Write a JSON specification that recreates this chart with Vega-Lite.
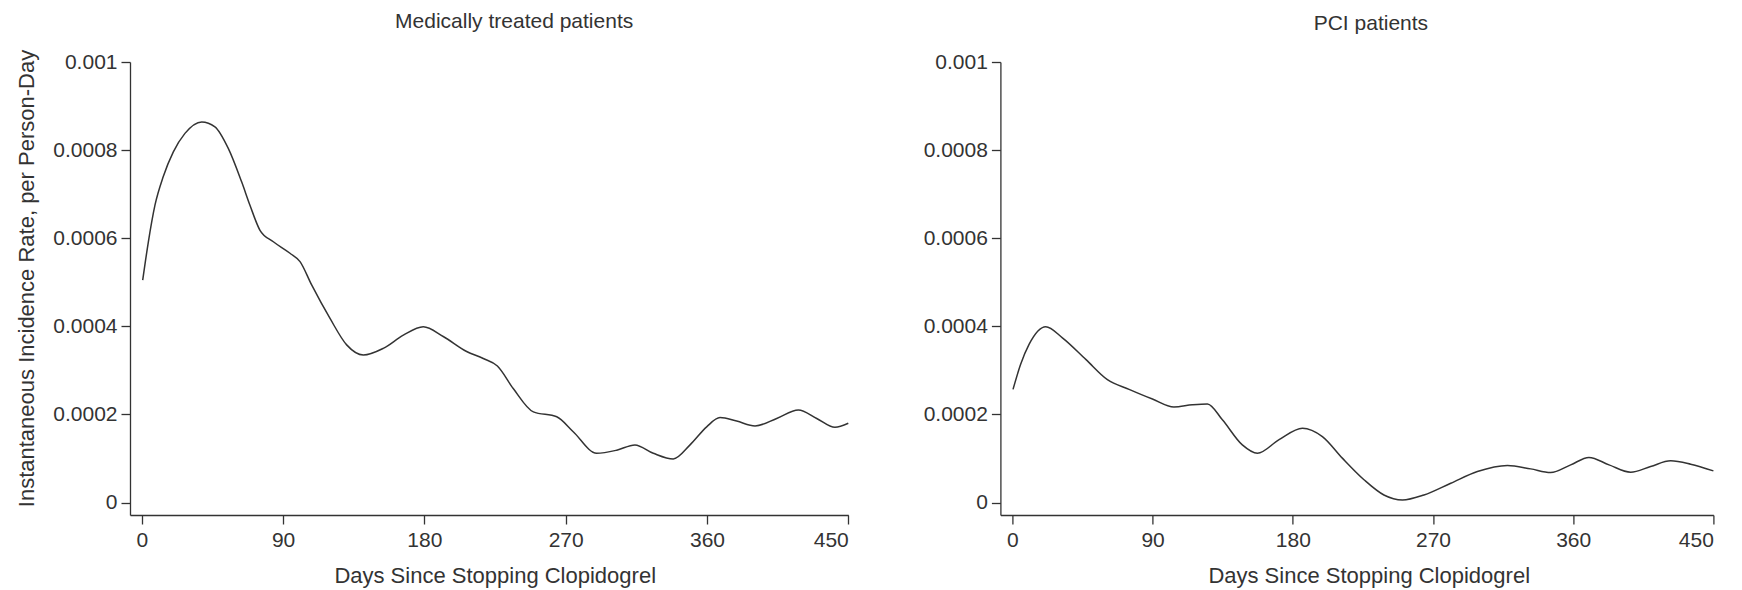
{
  "$schema": "https://vega.github.io/schema/vega-lite/v6.json",
  "padding": {"left": 14, "top": 10, "right": 5, "bottom": 10},
  "config": {
    "font": "Liberation Sans",
    "view": {"stroke": null},
    "axis": {
      "grid": false,
      "domainColor": "#333",
      "tickColor": "#333",
      "labelColor": "#333",
      "titleColor": "#333",
      "labelFontSize": 21,
      "titleFontSize": 22,
      "titleFontWeight": "normal",
      "tickSize": 9,
      "labelPadding": 5,
      "domainWidth": 1.3,
      "tickWidth": 1.3
    },
    "title": {"fontSize": 21, "fontWeight": "normal", "color": "#333"}
  },
  "datasets": {
    "med": [
      {"day": 0.6, "rate": 0.000505},
      {"day": 4.2, "rate": 0.000592},
      {"day": 8.4, "rate": 0.000675},
      {"day": 13.7, "rate": 0.00074},
      {"day": 20.1, "rate": 0.000796},
      {"day": 27.5, "rate": 0.000838},
      {"day": 38.2, "rate": 0.000864},
      {"day": 46.6, "rate": 0.000853},
      {"day": 55.1, "rate": 0.000804},
      {"day": 63.6, "rate": 0.000728},
      {"day": 68.9, "rate": 0.000675},
      {"day": 75.3, "rate": 0.000618},
      {"day": 83.8, "rate": 0.000592},
      {"day": 94.4, "rate": 0.000566},
      {"day": 100.8, "rate": 0.000547},
      {"day": 108.2, "rate": 0.000494},
      {"day": 119.9, "rate": 0.000418},
      {"day": 130.5, "rate": 0.000358},
      {"day": 141.1, "rate": 0.000335},
      {"day": 153.8, "rate": 0.00035},
      {"day": 166.6, "rate": 0.00038},
      {"day": 179.3, "rate": 0.000399},
      {"day": 192.0, "rate": 0.000377},
      {"day": 206.9, "rate": 0.000343},
      {"day": 217.5, "rate": 0.000327},
      {"day": 226.5, "rate": 0.00031},
      {"day": 236.6, "rate": 0.000259},
      {"day": 249.4, "rate": 0.000206},
      {"day": 264.3, "rate": 0.000195},
      {"day": 274.8, "rate": 0.000161},
      {"day": 289.7, "rate": 0.000112},
      {"day": 302.5, "rate": 0.000119},
      {"day": 314.1, "rate": 0.000131},
      {"day": 325.8, "rate": 0.000112},
      {"day": 338.5, "rate": 0.000099},
      {"day": 349.2, "rate": 0.000131},
      {"day": 359.8, "rate": 0.000172},
      {"day": 368.3, "rate": 0.000193},
      {"day": 378.9, "rate": 0.000185},
      {"day": 390.6, "rate": 0.000174},
      {"day": 404.4, "rate": 0.000191},
      {"day": 418.2, "rate": 0.00021},
      {"day": 429.9, "rate": 0.000191},
      {"day": 441.5, "rate": 0.000171},
      {"day": 450.0, "rate": 0.00018}
    ],
    "pci": [
      {"day": 0.4, "rate": 0.000257},
      {"day": 5.3, "rate": 0.000314},
      {"day": 10.7, "rate": 0.000359},
      {"day": 21.4, "rate": 0.000399},
      {"day": 32.1, "rate": 0.000374},
      {"day": 47.1, "rate": 0.000325},
      {"day": 61.0, "rate": 0.000279},
      {"day": 74.9, "rate": 0.000257},
      {"day": 89.9, "rate": 0.000235},
      {"day": 103.7, "rate": 0.000217},
      {"day": 115.5, "rate": 0.000222},
      {"day": 125.2, "rate": 0.000224},
      {"day": 134.8, "rate": 0.000188},
      {"day": 147.6, "rate": 0.000131},
      {"day": 157.3, "rate": 0.000112},
      {"day": 171.2, "rate": 0.000143},
      {"day": 186.2, "rate": 0.000169},
      {"day": 199.0, "rate": 0.00015},
      {"day": 211.8, "rate": 0.000101},
      {"day": 225.7, "rate": 0.000052},
      {"day": 238.5, "rate": 0.0000173},
      {"day": 250.4, "rate": 0.0000059},
      {"day": 264.2, "rate": 0.0000173},
      {"day": 281.4, "rate": 0.000044},
      {"day": 298.5, "rate": 0.0000706},
      {"day": 317.8, "rate": 0.0000843},
      {"day": 332.7, "rate": 0.0000766},
      {"day": 345.5, "rate": 0.0000684},
      {"day": 358.4, "rate": 0.0000857},
      {"day": 370.1, "rate": 0.0001025},
      {"day": 383.0, "rate": 0.0000857},
      {"day": 396.9, "rate": 0.000069},
      {"day": 409.7, "rate": 0.000082},
      {"day": 422.6, "rate": 0.0000948},
      {"day": 435.4, "rate": 0.0000873},
      {"day": 450.0, "rate": 0.000072}
    ]
  },
  "spacing": 151.4,
  "bounds": "flush",
  "hconcat": [
    {
      "width": 718.3,
      "height": 453,
      "title": {"text": "Medically treated patients", "dx": 25, "offset": 0.5, "baseline": "alphabetic"},
      "data": {"name": "med"},
      "mark": {"type": "line", "interpolate": "monotone", "color": "#333", "strokeWidth": 1.5},
      "encoding": {
        "x": {
          "field": "day", "type": "quantitative",
          "scale": {"domain": [-7.5, 450], "nice": false, "zero": false},
          "axis": {"values": [0, 90, 180, 270, 360, 450], "title": "Days Since Stopping Clopidogrel", "titleX": 364.7, "titleY": 67, "titleBaseline": "alphabetic", "titleAlign": "center"}
        },
        "y": {
          "field": "rate", "type": "quantitative",
          "scale": {"domain": [-0.0000281, 0.001], "nice": false, "zero": false},
          "axis": {"values": [0, 0.0002, 0.0004, 0.0006, 0.0008, 0.001], "format": "~f", "labelPadding": 4, "title": "Instantaneous Incidence Rate, per Person-Day", "titleX": -97, "titleY": 216, "titleBaseline": "alphabetic", "titleAlign": "center", "titleAngle": -90}
        }
      }
    },
    {
      "width": 713,
      "height": 453,
      "title": {"text": "PCI patients", "dx": 14, "offset": 0.5, "baseline": "alphabetic"},
      "data": {"name": "pci"},
      "mark": {"type": "line", "interpolate": "monotone", "color": "#333", "strokeWidth": 1.5},
      "encoding": {
        "x": {
          "field": "day", "type": "quantitative",
          "scale": {"domain": [-7.7, 450], "nice": false, "zero": false},
          "axis": {"values": [0, 90, 180, 270, 360, 450], "title": "Days Since Stopping Clopidogrel", "titleX": 368.3, "titleY": 67, "titleBaseline": "alphabetic", "titleAlign": "center"}
        },
        "y": {
          "field": "rate", "type": "quantitative",
          "scale": {"domain": [-0.0000281, 0.001], "nice": false, "zero": false},
          "axis": {"values": [0, 0.0002, 0.0004, 0.0006, 0.0008, 0.001], "format": "~f", "labelPadding": 4, "title": null}
        }
      }
    }
  ]
}
